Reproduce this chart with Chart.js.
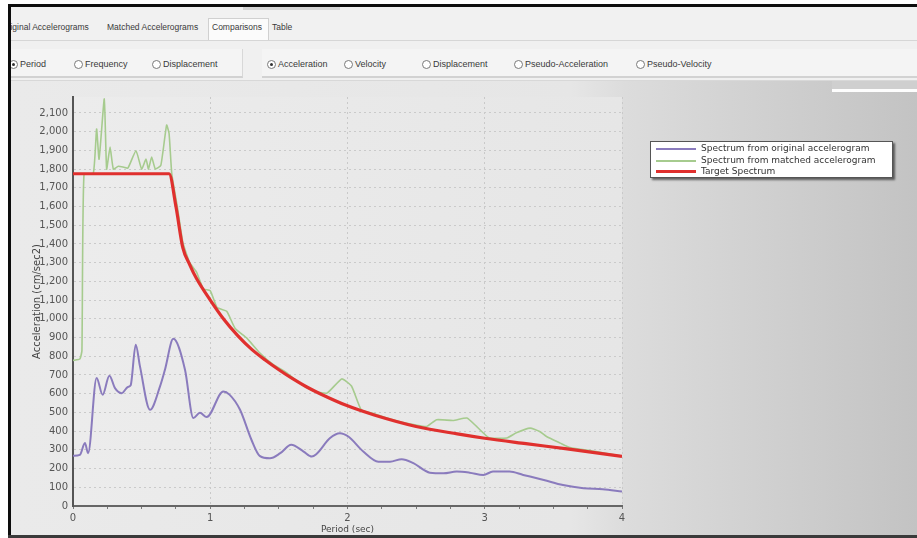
<!DOCTYPE html>
<html>
<head>
<meta charset="utf-8">
<script src="https://cdn.jsdelivr.net/npm/chart.js@4.4.1/dist/chart.umd.min.js"></script>
<style>
html,body{margin:0;padding:0;background:#fff;}
body{width:917px;height:538px;position:relative;overflow:hidden;font-family:"Liberation Sans",Arial,sans-serif;color:#333;}
.abs{position:absolute;}
#tabs{left:11px;top:7px;width:906px;height:33px;background:#f1f1f1;overflow:hidden;border-bottom:1px solid #d6d6d6;}
#tabs span{position:absolute;top:15px;font-size:8.5px;color:#3a3a3a;white-space:nowrap;}
#seltab{left:197px;top:11px;width:59px;height:23px;background:#fbfbfb;border:1px solid #d0d0d0;border-bottom:none;}
#topgray{left:243px;top:7px;width:97px;height:3px;background:#d4d4d4;}
#radios{left:11px;top:41px;width:906px;height:39px;background:#f0f0f0;}
.grp{position:absolute;top:8px;height:27px;background:#f4f4f4;border-bottom:2px solid #d2d2d2;border-right:1px solid #d8d8d8;}
.rb{position:absolute;top:18px;font-size:9px;color:#3a3a3a;white-space:nowrap;}
.rb i{position:absolute;left:-11px;top:1px;width:7px;height:7px;border:1px solid #7a7a7a;border-radius:50%;background:#fff;}
.rb i.on::after{content:"";position:absolute;left:2px;top:2px;width:3px;height:3px;border-radius:50%;background:#333;}
#panel{left:11px;top:80px;width:906px;height:455px;background:linear-gradient(to right,#eaeaea 0px,#e6e6e6 560px,#dcdcdc 615px,#c3c3c3 906px);border-top:1px solid #d8d8d8;}
#tr1{left:832px;top:81px;width:85px;height:8px;background:#cfcfcf;}
#tr2{left:832px;top:89px;width:85px;height:3px;background:#fdfdfd;}
#topbar{left:8px;top:4px;width:909px;height:3px;background:#0d0d0d;}
#leftbar{left:8px;top:4px;width:3px;height:534px;background:#0d0d0d;}
#botbar{left:8px;top:535px;width:909px;height:3px;background:#3a3a3a;}
#cv{position:absolute;left:0;top:0;}
#legend{left:650px;top:141px;width:241px;height:35px;background:#fff;border:1px solid #555;box-shadow:2px 2px 2px rgba(0,0,0,0.55);}
#legend div{position:absolute;left:0;height:12px;width:241px;}
#legend b{position:absolute;left:5px;width:40px;}
#legend span{position:absolute;left:50px;top:0;font-family:"DejaVu Sans",sans-serif;font-size:9px;line-height:11px;color:#333;white-space:nowrap;}
</style>
</head>
<body>
<div id="tabs" class="abs">
  <div id="seltab" class="abs"></div>
  <span style="left:-10px">Original Accelerograms</span>
  <span style="left:96px">Matched Accelerograms</span>
  <span style="left:201px">Comparisons</span>
  <span style="left:261px">Table</span>
</div>
<div id="topgray" class="abs"></div>
<div id="radios" class="abs">
  <div class="grp" style="left:0;width:231px;"></div>
  <div class="grp" style="left:251px;width:655px;"></div>
  <div class="rb" style="left:9px"><i class="on"></i>Period</div>
  <div class="rb" style="left:74px"><i></i>Frequency</div>
  <div class="rb" style="left:152px"><i></i>Displacement</div>
  <div class="rb" style="left:267px"><i class="on"></i>Acceleration</div>
  <div class="rb" style="left:344px"><i></i>Velocity</div>
  <div class="rb" style="left:422px"><i></i>Displacement</div>
  <div class="rb" style="left:514px"><i></i>Pseudo-Acceleration</div>
  <div class="rb" style="left:636px"><i></i>Pseudo-Velocity</div>
</div>
<div id="panel" class="abs"></div>
<div id="tr1" class="abs"></div>
<div id="tr2" class="abs"></div>
<canvas id="cv" width="917" height="538"></canvas>
<div id="legend" class="abs"></div>
<div id="topbar" class="abs"></div>
<div id="leftbar" class="abs"></div>
<div id="botbar" class="abs"></div>
<script>
// ---- data (Period in sec, Acceleration in cm/sec2) ----
const origT = [0, 0.05, 0.087, 0.11, 0.172, 0.216, 0.265, 0.306, 0.355, 0.40, 0.42, 0.457, 0.488, 0.561, 0.634, 0.67, 0.731, 0.816, 0.877, 0.925, 0.974, 1.095, 1.14, 1.217, 1.30, 1.36, 1.435, 1.51, 1.59, 1.68, 1.74, 1.77, 1.873, 1.945, 2.006, 2.115, 2.225, 2.31, 2.395, 2.48, 2.60, 2.70, 2.795, 2.89, 2.99, 3.06, 3.18, 3.28, 3.43, 3.57, 3.72, 3.86, 4.0];
const origA = [268, 273, 336, 282, 684, 594, 696, 630, 603, 636, 645, 862, 746, 514, 639, 728, 893, 728, 470, 498, 475, 612, 595, 514, 354, 268, 255, 282, 327, 291, 264, 275, 363, 389, 371, 291, 237, 237, 250, 229, 178, 175, 184, 178, 166, 184, 184, 166, 139, 112, 95, 89, 77];

const matchT = [0, 0.05, 0.065, 0.08, 0.148, 0.172, 0.19, 0.228, 0.245, 0.27, 0.294, 0.33, 0.37, 0.40, 0.459, 0.50, 0.532, 0.55, 0.573, 0.60, 0.64, 0.682, 0.70, 0.72, 0.76, 0.80, 0.85, 0.90, 0.95, 1.0, 1.05, 1.12, 1.18, 1.265, 1.36, 1.46, 1.55, 1.654, 1.75, 1.85, 1.958, 2.03, 2.10, 2.2, 2.3, 2.4, 2.5, 2.577, 2.65, 2.77, 2.87, 2.94, 3.03, 3.16, 3.23, 3.33, 3.40, 3.45, 3.55, 3.62, 3.8, 4.0];
const matchA = [778, 785, 830, 1770, 1778, 2014, 1853, 2175, 1800, 1917, 1800, 1815, 1810, 1805, 1898, 1800, 1853, 1800, 1864, 1800, 1820, 2035, 1990, 1773, 1600, 1410, 1300, 1250, 1160, 1150, 1060, 1040, 950, 898, 819, 755, 715, 655, 615, 603, 679, 640, 514, 492, 467, 447, 432, 425, 461, 457, 470, 425, 365, 363, 391, 416, 398, 371, 336, 312, 292, 267];

const targetT = [0, 0.7, 0.75, 0.8, 0.85, 0.9, 1.0, 1.1, 1.2, 1.3, 1.4, 1.5, 1.6, 1.7, 1.8, 2.0, 2.2, 2.5, 2.8, 3.0, 3.3, 3.6, 4.0];
const targetA = [1775, 1775, 1600, 1380, 1290, 1215, 1100, 996, 910, 838, 780, 728, 680, 637, 600, 535, 485, 425, 385, 362, 333, 305, 265];

const seriesLabels = ['Spectrum from original accelerogram', 'Spectrum from matched accelerogram', 'Target Spectrum'];
const xAxisTitle = 'Period (sec)';
const yAxisTitle = 'Acceleration (cm/sec2)';
const xMin = 0, xMax = 4, xMinorStep = 0.25;
const yMin = 0, yMax = 2185, yStep = 100;

const toPts = (t, a) => t.map((v, i) => ({x: v, y: a[i]}));

const plotBg = {
  id: 'plotBg',
  beforeDraw(chart) {
    const {ctx, chartArea: a} = chart;
    const g = ctx.createLinearGradient(a.left, 0, a.right, 0);
    g.addColorStop(0, '#ececec');
    g.addColorStop(1, '#e6e6e6');
    ctx.save();
    ctx.fillStyle = g;
    ctx.fillRect(a.left, a.top, a.right - a.left, a.bottom - a.top);
    ctx.restore();
  }
};

const chart = new Chart(document.getElementById('cv'), {
  type: 'line',
  data: {
    datasets: [
      {label: seriesLabels[0], data: toPts(origT, origA), borderColor: '#8a7bbd', borderWidth: 2,
       cubicInterpolationMode: 'monotone', pointRadius: 0, order: 2},
      {label: seriesLabels[1], data: toPts(matchT, matchA), borderColor: '#a6cb8e', borderWidth: 1.6,
       tension: 0.15, pointRadius: 0, order: 1},
      {label: seriesLabels[2], data: toPts(targetT, targetA), borderColor: '#e0302e', borderWidth: 3.2,
       cubicInterpolationMode: 'monotone', pointRadius: 0, order: 0}
    ]
  },
  options: {
    responsive: false,
    animation: false,
    events: [],
    layout: {padding: {left: 0, right: 295, top: 97, bottom: 0}},
    plugins: {legend: {display: false}, tooltip: {enabled: false}},
    scales: {
      x: {
        type: 'linear', min: xMin, max: xMax,
        afterFit(s) { s.height = 32; },
        ticks: {
          stepSize: xMinorStep, autoSkip: false, maxRotation: 0, padding: 3,
          color: '#555', font: {family: 'DejaVu Sans', size: 10},
          callback: v => Number.isInteger(v) ? String(v) : ''
        },
        grid: {
          color: c => (c.tick && Number.isInteger(c.tick.value) && c.tick.value > 0) ? '#c9c9c9' : 'rgba(0,0,0,0)',
          lineWidth: 1, drawTicks: true, tickLength: 3, tickColor: '#7a7a7a'
        },
        border: {color: '#666', width: 2, dash: [2, 3]},
        title: {display: true, text: xAxisTitle, color: '#444',
                font: {family: 'DejaVu Sans', size: 9}, padding: {top: 0, bottom: 3}}
      },
      y: {
        type: 'linear', min: yMin, max: yMax,
        afterFit(s) { s.width = 73; },
        ticks: {
          stepSize: yStep, includeBounds: false, padding: 5, autoSkip: false,
          color: '#555', font: {family: 'DejaVu Sans', size: 10},
          callback: v => Number(v).toLocaleString('en-US')
        },
        grid: {color: '#cacaca', lineWidth: 1, drawTicks: false},
        border: {color: '#555', width: 2, dash: [2, 3]},
        title: {display: true, text: yAxisTitle, color: '#444',
                font: {family: 'DejaVu Sans', size: 10}, padding: {top: 31, bottom: 0}}
      }
    }
  },
  plugins: [plotBg]
});

// legend built from the chart's datasets
const leg = document.getElementById('legend');
chart.data.datasets.forEach((ds, i) => {
  const row = document.createElement('div');
  row.style.top = (1 + i * 11.5) + 'px';
  const ln = document.createElement('b');
  ln.style.top = (6 - ds.borderWidth / 2) + 'px';
  ln.style.height = Math.max(2, Math.round(ds.borderWidth)) + 'px';
  ln.style.background = ds.borderColor;
  const tx = document.createElement('span');
  tx.textContent = ds.label;
  row.appendChild(ln); row.appendChild(tx);
  leg.appendChild(row);
});
</script>
</body>
</html>
